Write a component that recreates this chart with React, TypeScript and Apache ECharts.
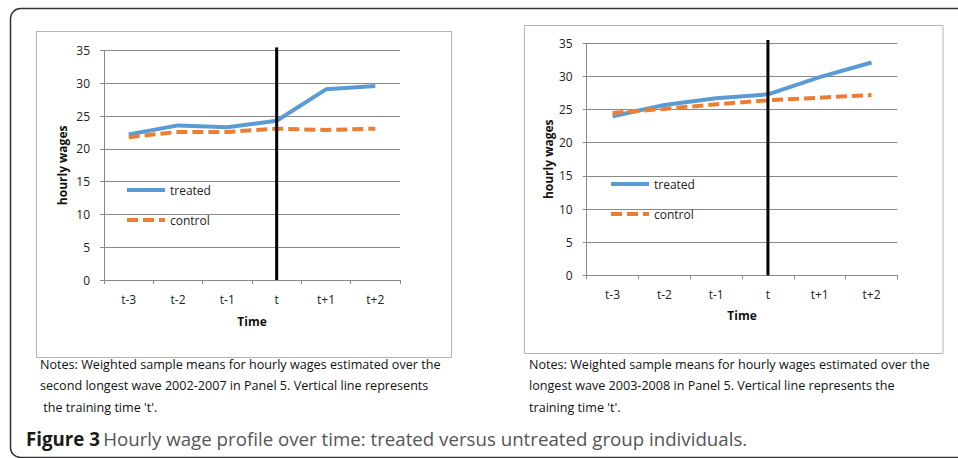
import React, { useEffect, useRef } from "react";
import * as echarts from "echarts";

const categories = ["t-3", "t-2", "t-1", "t", "t+1", "t+2"];
const leftTreated = [22.2, 23.6, 23.3, 24.3, 29.1, 29.6];
const leftControl = [21.8, 22.6, 22.6, 23.1, 22.9, 23.1];
const rightTreated = [24.0, 25.7, 26.7, 27.3, 29.9, 32.1];
const rightControl = [24.5, 25.1, 25.8, 26.4, 26.8, 27.2];
const seriesNames = ["treated", "control"];
const yMin = 0;
const yMax = 35;
const yInterval = 5;
const trainingTime = "t";
const trainingLineSpan = [0, 35.5];
const xAxisName = "Time";
const yAxisName = "hourly wages";
const leftNotes = [
  "Notes: Weighted sample means for hourly wages estimated over the",
  "second longest wave 2002-2007 in Panel 5. Vertical line represents",
  " the training time 't'.",
];
const rightNotes = [
  "Notes: Weighted sample means for hourly wages estimated over the",
  "longest wave 2003-2008 in Panel 5. Vertical line represents the",
  "training time 't'.",
];
const captionBold = "Figure 3";
const captionText = "Hourly wage profile over time: treated versus untreated group individuals.";

const FONT = "'Open Sans', 'Noto Sans', sans-serif";
const BLUE = "#5B9BD5";
const ORANGE = "#ED7D31";
const GRIDC = "#8a8a8a";

function makeAxes(gridIndex: number, nameGapX: number, nameGapY: number) {
  const xAxis = {
    type: "category",
    gridIndex,
    data: categories,
    boundaryGap: true,
    axisLine: { lineStyle: { color: GRIDC, width: 1 } },
    axisTick: { show: true, length: 4, lineStyle: { color: GRIDC } },
    axisLabel: { margin: 13, color: "#222", fontSize: 12, fontFamily: FONT },
    name: xAxisName,
    nameLocation: "middle",
    nameGap: nameGapX,
    nameTextStyle: { fontWeight: "bold", fontSize: 12, color: "#111", fontFamily: FONT },
  };
  const yAxis = {
    type: "value",
    gridIndex,
    min: yMin,
    max: yMax,
    interval: yInterval,
    axisLine: { show: true, lineStyle: { color: GRIDC, width: 1 } },
    axisTick: { show: true, length: 4, lineStyle: { color: GRIDC } },
    splitLine: { show: true, lineStyle: { color: GRIDC, width: 1 } },
    axisLabel: { margin: 14, color: "#222", fontSize: 12, fontFamily: FONT },
    name: yAxisName,
    nameLocation: "middle",
    nameGap: nameGapY,
    nameRotate: 90,
    nameTextStyle: { fontWeight: "bold", fontSize: 12, color: "#111", fontFamily: FONT },
  };
  return { xAxis, yAxis };
}

function makeSeries(idx: number, treated: number[], control: number[]) {
  return [
    {
      name: seriesNames[0],
      type: "line",
      xAxisIndex: idx,
      yAxisIndex: idx,
      data: treated,
      symbol: "none",
      lineStyle: { color: BLUE, width: 4 },
      itemStyle: { color: BLUE },
      z: 3,
    },
    {
      name: seriesNames[1],
      type: "line",
      xAxisIndex: idx,
      yAxisIndex: idx,
      data: control,
      symbol: "none",
      lineStyle: { color: ORANGE, width: 4, type: [11, 5] },
      itemStyle: { color: ORANGE },
      z: 4,
    },
    {
      name: "training time",
      type: "line",
      xAxisIndex: idx,
      yAxisIndex: idx,
      data: trainingLineSpan.map((v) => [trainingTime, v]),
      symbol: "none",
      clip: false,
      silent: true,
      lineStyle: { color: "#000", width: 3 },
      z: 5,
    },
  ];
}

function noteTexts(lines: string[], x: number) {
  return lines.map((t, i) => ({
    type: "text",
    x,
    y: 364 + i * 21.5,
    style: {
      text: t,
      fill: "#111",
      font: `12.6px ${FONT}`,
      verticalAlign: "middle",
      align: "left",
    },
  }));
}

export default function App() {
  const ref = useRef<HTMLDivElement>(null);
  useEffect(() => {
    if (!ref.current) return;
    const chart = echarts.init(ref.current, null, { renderer: "svg" });
    const a1 = makeAxes(0, 35, 36);
    const a2 = makeAxes(1, 34, 32);
    const legendCommon = {
      orient: "vertical",
      data: seriesNames,
      itemWidth: 38,
      itemHeight: 14,
      itemGap: 18,
      padding: 0,
      itemStyle: { opacity: 0 },
      lineStyle: { width: 4, cap: "butt" },
      textStyle: { fontSize: 12, color: "#222", fontFamily: FONT, padding: [0, 0, 0, 0] },
      selectedMode: false,
    };
    chart.setOption({
      animation: false,
      backgroundColor: "#fff",
      grid: [
        { left: 104, top: 50.7, width: 296, height: 229.3, containLabel: false },
        { left: 586.7, top: 43.3, width: 310.7, height: 232, containLabel: false },
      ],
      xAxis: [a1.xAxis, a2.xAxis],
      yAxis: [a1.yAxis, a2.yAxis],
      legend: [
        { ...legendCommon, left: 125, top: 184 },
        { ...legendCommon, left: 609, top: 178 },
      ],
      series: [
        ...makeSeries(0, leftTreated, leftControl),
        ...makeSeries(1, rightTreated, rightControl),
      ],
      graphic: [
        {
          type: "rect",
          shape: { x: 10.5, y: 8.5, width: 990, height: 449, r: 10 },
          style: { fill: "none", stroke: "#333", lineWidth: 1.5 },
          silent: true,
        },
        {
          type: "rect",
          shape: { x: 36.5, y: 31.5, width: 415, height: 326 },
          style: { fill: "none", stroke: "#b5b5b5", lineWidth: 1 },
          silent: true,
        },
        {
          type: "rect",
          shape: { x: 524.5, y: 25.5, width: 418.5, height: 328 },
          style: { fill: "none", stroke: "#b5b5b5", lineWidth: 1 },
          silent: true,
        },
        ...noteTexts(leftNotes, 40),
        ...noteTexts(rightNotes, 529),
        {
          type: "text",
          x: 26,
          y: 438,
          style: {
            text: `{b|${captionBold}} {r|${captionText}}`,
            verticalAlign: "middle",
            rich: {
              b: { font: `bold 18.7px ${FONT}`, fill: "#1a1a1a" },
              r: { font: `18.7px ${FONT}`, fill: "#555" },
            },
          },
        },
      ],
    });
    return () => chart.dispose();
  }, []);
  return (
    <div
      ref={ref}
      style={{ position: "absolute", left: 0, top: 0, width: 958, height: 458 }}
    />
  );
}
